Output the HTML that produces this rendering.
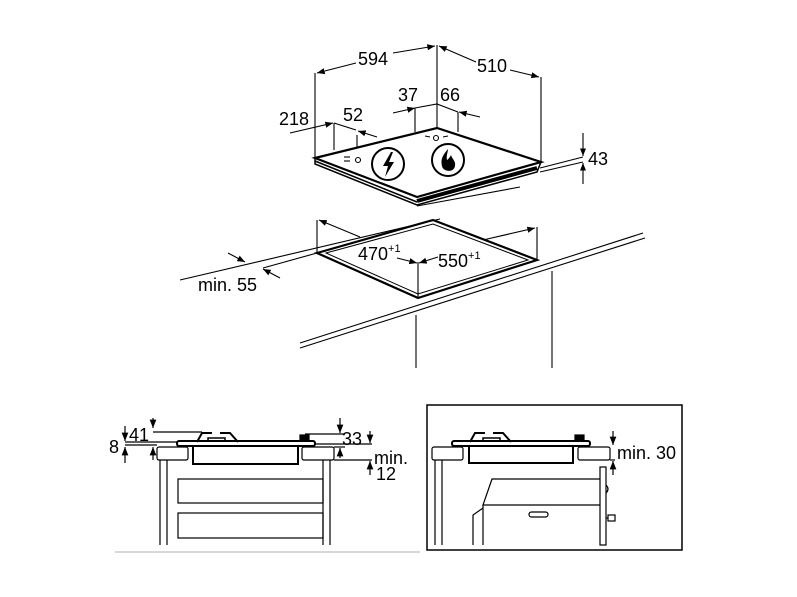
<!DOCTYPE html>
<html><head><style>
html,body{margin:0;padding:0;background:#fff;}
svg{display:block;font-family:"Liberation Sans",Arial,sans-serif;}
</style></head><body>
<svg width="797" height="597" viewBox="0 0 797 597" xmlns="http://www.w3.org/2000/svg">
<defs>
<marker id="a" viewBox="0 0 10 10" refX="10" refY="5" markerWidth="7" markerHeight="7" orient="auto-start-reverse"><path d="M0,1 L10,5 L0,9 z" fill="#000"/></marker>
</defs>
<g stroke="#000" fill="none" stroke-width="1.1">
<line x1="315" y1="73" x2="315" y2="158"/>
<line x1="437" y1="45" x2="437" y2="128"/>
<line x1="541" y1="77" x2="541" y2="162"/>
<line x1="356" y1="63" x2="317" y2="73" marker-end="url(#a)"/>
<line x1="393" y1="53" x2="435" y2="46" marker-end="url(#a)"/>
<line x1="439" y1="46" x2="476" y2="62" marker-start="url(#a)"/>
<line x1="510" y1="70" x2="539" y2="77" marker-end="url(#a)"/>
<line x1="393" y1="113" x2="415" y2="108" marker-end="url(#a)"/>
<polyline points="415,108 437,104 458,112"/>
<line x1="480" y1="117" x2="459" y2="112" marker-end="url(#a)"/>
<line x1="415" y1="108" x2="415" y2="132"/>
<line x1="458" y1="112" x2="458" y2="132"/>
<line x1="290" y1="133" x2="333" y2="123" marker-end="url(#a)"/>
<polyline points="334,123 356,130"/>
<line x1="377" y1="137" x2="358" y2="131" marker-end="url(#a)"/>
<line x1="334" y1="123" x2="334" y2="150"/>
<line x1="357" y1="135" x2="357" y2="157"/>
<polygon points="315,158 437,128 541,162 417,197" stroke-width="2.2" fill="#fff"/>
<polyline points="315,158 315,164 417,205 537,172 541,162" stroke-width="1.5"/>
<line x1="417" y1="201" x2="537" y2="168" stroke-width="4"/>
<line x1="315" y1="161" x2="417" y2="202" stroke-width="1.5"/>
<line x1="417" y1="206" x2="520" y2="187"/>
<circle cx="388" cy="164" r="16" stroke-width="2"/>
<circle cx="448" cy="160" r="16" stroke-width="2"/>
<circle cx="358" cy="160" r="2.5"/>
<circle cx="436" cy="138" r="2.5"/>
<line x1="344" y1="157" x2="350" y2="157"/><line x1="344" y1="161" x2="350" y2="161"/>
<line x1="425" y1="136" x2="430" y2="137"/><line x1="443" y1="137" x2="448" y2="136"/>
<line x1="540" y1="168" x2="583" y2="157"/>
<line x1="540" y1="172" x2="583" y2="162"/>
<line x1="583" y1="133" x2="583" y2="156" marker-end="url(#a)"/>
<line x1="583" y1="184" x2="583" y2="163" marker-end="url(#a)"/>
<line x1="180" y1="280" x2="440" y2="219"/>
<line x1="263" y1="268" x2="317" y2="253"/>
<line x1="300" y1="343" x2="643" y2="233"/>
<line x1="300" y1="348" x2="645" y2="238"/>
<line x1="416" y1="315" x2="416" y2="368"/>
<line x1="552" y1="271" x2="552" y2="368"/>
<polygon points="317,253 433,220 537,260 418,298" stroke-width="2.2"/>
<polygon points="326,253 433,224 528,260 418,294" stroke-width="1"/>
<line x1="317" y1="220" x2="317" y2="253"/>
<line x1="537" y1="227" x2="537" y2="260"/>
<line x1="418" y1="262" x2="418" y2="298"/>
<line x1="360" y1="237" x2="319" y2="220" marker-end="url(#a)"/>
<line x1="483" y1="240" x2="535" y2="228" marker-end="url(#a)"/>
<line x1="397" y1="258" x2="417" y2="263" marker-end="url(#a)"/>
<line x1="438" y1="257" x2="419" y2="263" marker-end="url(#a)"/>
<line x1="228" y1="253" x2="245" y2="262" marker-end="url(#a)"/>
<line x1="280" y1="278" x2="263" y2="269" marker-end="url(#a)"/>
</g>
<path d="M391,152 L383,166 L388,166 L385,177 L394,162 L389,162 L393,152 z" fill="#000"/>
<path d="M448,149 C441,157 441,161 442,166 C443,172 454,173 455,166 C456,161 452,159 451,155 C449,159 447,160 447,160 C446,156 448,152 448,149 z" fill="#000"/>
<g font-size="18" fill="#000">
<text x="358" y="65">594</text>
<text x="477" y="72">510</text>
<text x="398" y="101">37</text>
<text x="440" y="101">66</text>
<text x="279" y="125">218</text>
<text x="343" y="121">52</text>
<text x="588" y="165">43</text>
<text x="358" y="260">470<tspan font-size="11" dy="-8">+1</tspan></text>
<text x="438" y="267">550<tspan font-size="11" dy="-8">+1</tspan></text>
<text x="198" y="291">min. 55</text>
</g>
<g stroke="#000" fill="none" stroke-width="1.2">
<line x1="115" y1="552" x2="420" y2="552" stroke="#ccc" stroke-width="1.5"/>
<rect x="157" y="447" width="31" height="13" rx="2"/>
<rect x="302" y="447" width="32" height="13" rx="2"/>
<rect x="193" y="446" width="105" height="18" stroke-width="2"/>
<rect x="177" y="441" width="138" height="5" rx="2" stroke-width="2" fill="#fff"/>
<polyline points="197,442 202,433 212,433" stroke-width="2"/>
<polyline points="220,433 230,433 238,442" stroke-width="2"/>
<rect x="208" y="438" width="17" height="3" stroke-width="1.5"/>
<rect x="300" y="435" width="9" height="6" fill="#000"/>
<line x1="160" y1="460" x2="160" y2="545"/><line x1="167" y1="460" x2="167" y2="545"/>
<line x1="323" y1="460" x2="323" y2="545"/><line x1="330" y1="460" x2="330" y2="545"/>
<rect x="178" y="479" width="145" height="24"/>
<rect x="178" y="513" width="145" height="25"/>
<line x1="153" y1="432" x2="202" y2="432"/>
<line x1="153" y1="418" x2="153" y2="428" marker-end="url(#a)"/>
<line x1="125" y1="442" x2="177" y2="442"/>
<line x1="125" y1="445" x2="157" y2="445"/>
<line x1="125" y1="426" x2="125" y2="441" marker-end="url(#a)"/>
<line x1="125" y1="463" x2="125" y2="447" marker-end="url(#a)"/>
<line x1="153" y1="460" x2="153" y2="447" marker-end="url(#a)"/>
<line x1="305" y1="434" x2="345" y2="434"/>
<line x1="340" y1="418" x2="340" y2="433" marker-end="url(#a)"/>
<line x1="315" y1="444" x2="372" y2="444"/>
<line x1="370" y1="431" x2="370" y2="443" marker-end="url(#a)"/>
<line x1="334" y1="447" x2="345" y2="447"/>
<line x1="340" y1="458" x2="340" y2="448" marker-end="url(#a)"/>
<line x1="334" y1="460" x2="372" y2="460"/>
<line x1="370" y1="475" x2="370" y2="461" marker-end="url(#a)"/>
</g>
<g font-size="18" fill="#000">
<text x="129" y="441">41</text>
<text x="109" y="453">8</text>
<text x="342" y="445">33</text>
<text x="374" y="464">min.</text>
<text x="376" y="480">12</text>
</g>
<g stroke="#000" fill="none" stroke-width="1.2">
<rect x="427" y="405" width="255" height="145" stroke-width="1.5"/>
<rect x="432" y="447" width="31" height="13" rx="2"/>
<rect x="578" y="447" width="32" height="13" rx="2"/>
<rect x="469" y="446" width="104" height="17" stroke-width="2"/>
<rect x="452" y="441" width="138" height="5" rx="2" stroke-width="2" fill="#fff"/>
<polyline points="470,442 475,433 485,433" stroke-width="2"/>
<polyline points="493,433 503,433 511,442" stroke-width="2"/>
<rect x="483" y="438" width="17" height="3" stroke-width="1.5"/>
<rect x="575" y="435" width="9" height="6" fill="#000"/>
<line x1="435" y1="460" x2="435" y2="545"/><line x1="442" y1="460" x2="442" y2="545"/>
<polyline points="600,479 492,479 483,505 600,505"/>
<polyline points="473,545 473,515 483,508"/>
<line x1="483" y1="505" x2="483" y2="545"/>
<rect x="529" y="512" width="19" height="5" rx="2.5"/>
<rect x="600" y="467" width="6" height="78"/>
<path d="M606,485 Q610,489 606,493"/>
<rect x="608" y="515" width="7" height="6"/>
<line x1="606" y1="518" x2="608" y2="518"/>
<line x1="610" y1="460" x2="615" y2="460"/>
<line x1="613" y1="431" x2="613" y2="445" marker-end="url(#a)"/>
<line x1="613" y1="475" x2="613" y2="461" marker-end="url(#a)"/>
</g>
<text x="617" y="459" font-size="18" fill="#000">min. 30</text>
</svg>
</body></html>
